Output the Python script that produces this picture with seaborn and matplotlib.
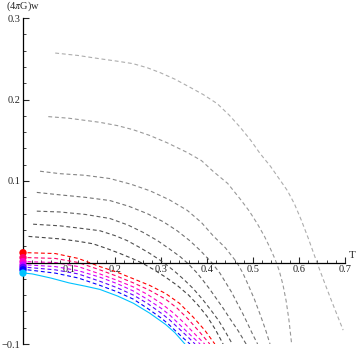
import colorsys
import pandas as pd
import seaborn as sns
import matplotlib.pyplot as plt
from matplotlib.ticker import MultipleLocator, FixedLocator

# gray family of curves, top (lightest) to bottom (darkest)
gray_T = [
    [0.07, 0.12, 0.167, 0.205, 0.239, 0.27, 0.298, 0.33, 0.363, 0.392, 0.422, 0.448, 0.472, 0.495,
     0.515, 0.538, 0.559, 0.575, 0.59, 0.605, 0.62, 0.639, 0.655, 0.67, 0.684, 0.696],
    [0.055, 0.10, 0.167, 0.205, 0.239, 0.275, 0.313, 0.357, 0.388, 0.413, 0.445, 0.472, 0.492,
     0.51, 0.525, 0.537, 0.548, 0.557, 0.565, 0.572, 0.578, 0.584],
    [0.037, 0.08, 0.135, 0.189, 0.235, 0.276, 0.318, 0.357, 0.388, 0.413, 0.44, 0.465, 0.478,
     0.49, 0.503, 0.515, 0.527, 0.537],
    [0.03, 0.08, 0.135, 0.189, 0.23, 0.27, 0.305, 0.335, 0.362, 0.385, 0.41, 0.428, 0.44, 0.453,
     0.465, 0.478, 0.49, 0.5, 0.51],
    [0.03, 0.08, 0.135, 0.189, 0.228, 0.261, 0.292, 0.32, 0.342, 0.36, 0.377, 0.39, 0.405, 0.42,
     0.435, 0.45, 0.468, 0.485],
    [0.022, 0.08, 0.125, 0.167, 0.2, 0.226, 0.252, 0.276, 0.295, 0.31, 0.33, 0.35, 0.37, 0.39,
     0.408, 0.425, 0.44, 0.455],
    [0.012, 0.08, 0.12, 0.152, 0.183, 0.211, 0.237, 0.26, 0.285, 0.31, 0.335, 0.36, 0.38, 0.40,
     0.418, 0.435],
]
gray_w = [
    [0.257, 0.254, 0.250, 0.247, 0.244, 0.239, 0.233, 0.225, 0.215, 0.206, 0.195, 0.181, 0.166, 0.15,
     0.134, 0.118, 0.101, 0.088, 0.072, 0.052, 0.03, 0.0, -0.024, -0.046, -0.066, -0.083],
    [0.179, 0.177, 0.172, 0.168, 0.163, 0.156, 0.147, 0.135, 0.125, 0.112, 0.097, 0.078, 0.063,
     0.047, 0.032, 0.018, 0.004, -0.01, -0.027, -0.047, -0.07, -0.1],
    [0.112, 0.109, 0.107, 0.103, 0.096, 0.088, 0.077, 0.064, 0.049, 0.033, 0.018, 0.0, -0.013,
     -0.028, -0.045, -0.063, -0.082, -0.1],
    [0.086, 0.083, 0.080, 0.076, 0.069, 0.060, 0.050, 0.039, 0.027, 0.015, 0.0, -0.013, -0.024, -0.036,
     -0.049, -0.063, -0.077, -0.089, -0.1],
    [0.063, 0.062, 0.059, 0.054, 0.046, 0.037, 0.027, 0.016, 0.007, -0.002, -0.012, -0.021, -0.032,
     -0.044, -0.056, -0.069, -0.084, -0.1],
    [0.047, 0.045, 0.042, 0.039, 0.033, 0.027, 0.019, 0.011, 0.004, -0.002, -0.011, -0.021, -0.032,
     -0.045, -0.058, -0.071, -0.085, -0.1],
    [0.032, 0.029, 0.026, 0.023, 0.017, 0.011, 0.005, -0.001, -0.009, -0.018, -0.028, -0.04, -0.052,
     -0.066, -0.082, -0.1],
]
gray_levels = [0.68, 0.6, 0.52, 0.45, 0.38, 0.32, 0.27]

# coloured family, top (red) to bottom (cyan)
col_T = [
    [0.01, 0.07, 0.12, 0.167, 0.205, 0.24, 0.275, 0.31, 0.34, 0.37, 0.395, 0.417],
    [0.01, 0.07, 0.12, 0.167, 0.205, 0.24, 0.275, 0.31, 0.335, 0.36, 0.385, 0.406],
    [0.01, 0.07, 0.12, 0.167, 0.205, 0.24, 0.27, 0.30, 0.325, 0.35, 0.374, 0.395],
    [0.01, 0.07, 0.12, 0.167, 0.205, 0.24, 0.27, 0.30, 0.32, 0.34, 0.364, 0.385],
    [0.01, 0.07, 0.12, 0.167, 0.205, 0.24, 0.27, 0.30, 0.318, 0.335, 0.356, 0.374],
    [0.01, 0.07, 0.12, 0.167, 0.205, 0.24, 0.27, 0.30, 0.315, 0.33, 0.347, 0.363],
    [0.003, 0.02, 0.06, 0.10, 0.135, 0.167, 0.205, 0.24, 0.275, 0.31, 0.33, 0.352],
]
col_w = [
    [0.012, 0.011, 0.005, -0.005, -0.012, -0.02, -0.028, -0.038, -0.05, -0.067, -0.083, -0.1],
    [0.006, 0.005, 0.0, -0.009, -0.017, -0.025, -0.034, -0.045, -0.056, -0.07, -0.086, -0.1],
    [0.001, 0.0, -0.005, -0.014, -0.022, -0.03, -0.039, -0.05, -0.061, -0.074, -0.088, -0.1],
    [-0.003, -0.005, -0.01, -0.018, -0.026, -0.035, -0.045, -0.056, -0.065, -0.076, -0.089, -0.1],
    [-0.006, -0.009, -0.014, -0.023, -0.031, -0.04, -0.05, -0.062, -0.07, -0.079, -0.09, -0.1],
    [-0.009, -0.013, -0.019, -0.028, -0.036, -0.045, -0.056, -0.068, -0.075, -0.083, -0.092, -0.1],
    [-0.013, -0.014, -0.019, -0.025, -0.029, -0.033, -0.041, -0.05, -0.062, -0.076, -0.086, -0.1],
]
col_hues = [0.0, 0.93, 0.87, 0.8, 0.73, 0.67, 0.54]
dot_w = [0.012, 0.006, 0.001, -0.003, -0.006, -0.009, -0.013]

x_ticks = [0.1, 0.2, 0.3, 0.4, 0.5, 0.6, 0.7]
y_ticks = [-0.1, 0.1, 0.2, 0.3]

sns.set_style('white')
plt.rcParams['font.family'] = ['Liberation Serif', 'DejaVu Serif']
plt.rcParams['mathtext.fontset'] = 'stix'

fig = plt.figure(figsize=(3.6, 3.51), dpi=100)
ax = fig.add_axes([23/360, 7/351, 322/360, 326/351])

dash = (0, (3.5, 2.5))
for T, w, g in zip(gray_T, gray_w, gray_levels):
    df = pd.DataFrame({'T': T, 'w': w})
    sns.lineplot(data=df, x='T', y='w', ax=ax, color=(g, g, g), lw=0.8,
                 linestyle=dash, estimator=None)

colors = [colorsys.hsv_to_rgb(h, 1, 1) for h in col_hues]
for i, (T, w, c) in enumerate(zip(col_T, col_w, colors)):
    df = pd.DataFrame({'T': T, 'w': w})
    ls = '-' if i == len(col_T) - 1 else dash
    sns.lineplot(data=df, x='T', y='w', ax=ax, color=c, lw=0.8,
                 linestyle=ls, estimator=None)

dots = pd.DataFrame({'T': [0.0]*len(dot_w), 'w': dot_w, 'c': range(len(dot_w))})
sns.scatterplot(data=dots, x='T', y='w', hue='c', palette=colors, s=28,
                edgecolor='none', legend=False, ax=ax, clip_on=False, zorder=5)

ax.set_xlim(0, 0.7)
ax.set_ylim(-0.1, 0.3)
for s in ['top', 'right']:
    ax.spines[s].set_visible(False)
ax.spines['bottom'].set_position(('data', 0))
ax.spines['left'].set_position(('data', 0))
for s in ['bottom', 'left']:
    ax.spines[s].set_linewidth(0.9)
    ax.spines[s].set_color('black')

ax.xaxis.set_major_locator(FixedLocator(x_ticks))
ax.yaxis.set_major_locator(FixedLocator(y_ticks))
ax.xaxis.set_minor_locator(MultipleLocator(0.02))
ax.yaxis.set_minor_locator(MultipleLocator(0.02))
ax.set_xticklabels([f'{v:g}' for v in x_ticks])
ax.set_yticklabels(['\u22120.1', '0.1', '0.2', '0.3'])
ax.tick_params(which='major', direction='in', length=4.5, width=0.8, labelsize=7.5, pad=2,
               bottom=True, left=True)
ax.tick_params(which='minor', direction='in', length=2.5, width=0.6, bottom=True, left=True)
ax.set_xlabel('')
ax.set_ylabel('')

fig.text(352/360, 1 - 256/351, 'T', ha='center', va='center', fontsize=8)
fig.text(6/360, 1 - 6/351, r'(4$\pi$G)w', ha='left', va='center', fontsize=7.5)

fig.savefig('out.png', dpi=100)
